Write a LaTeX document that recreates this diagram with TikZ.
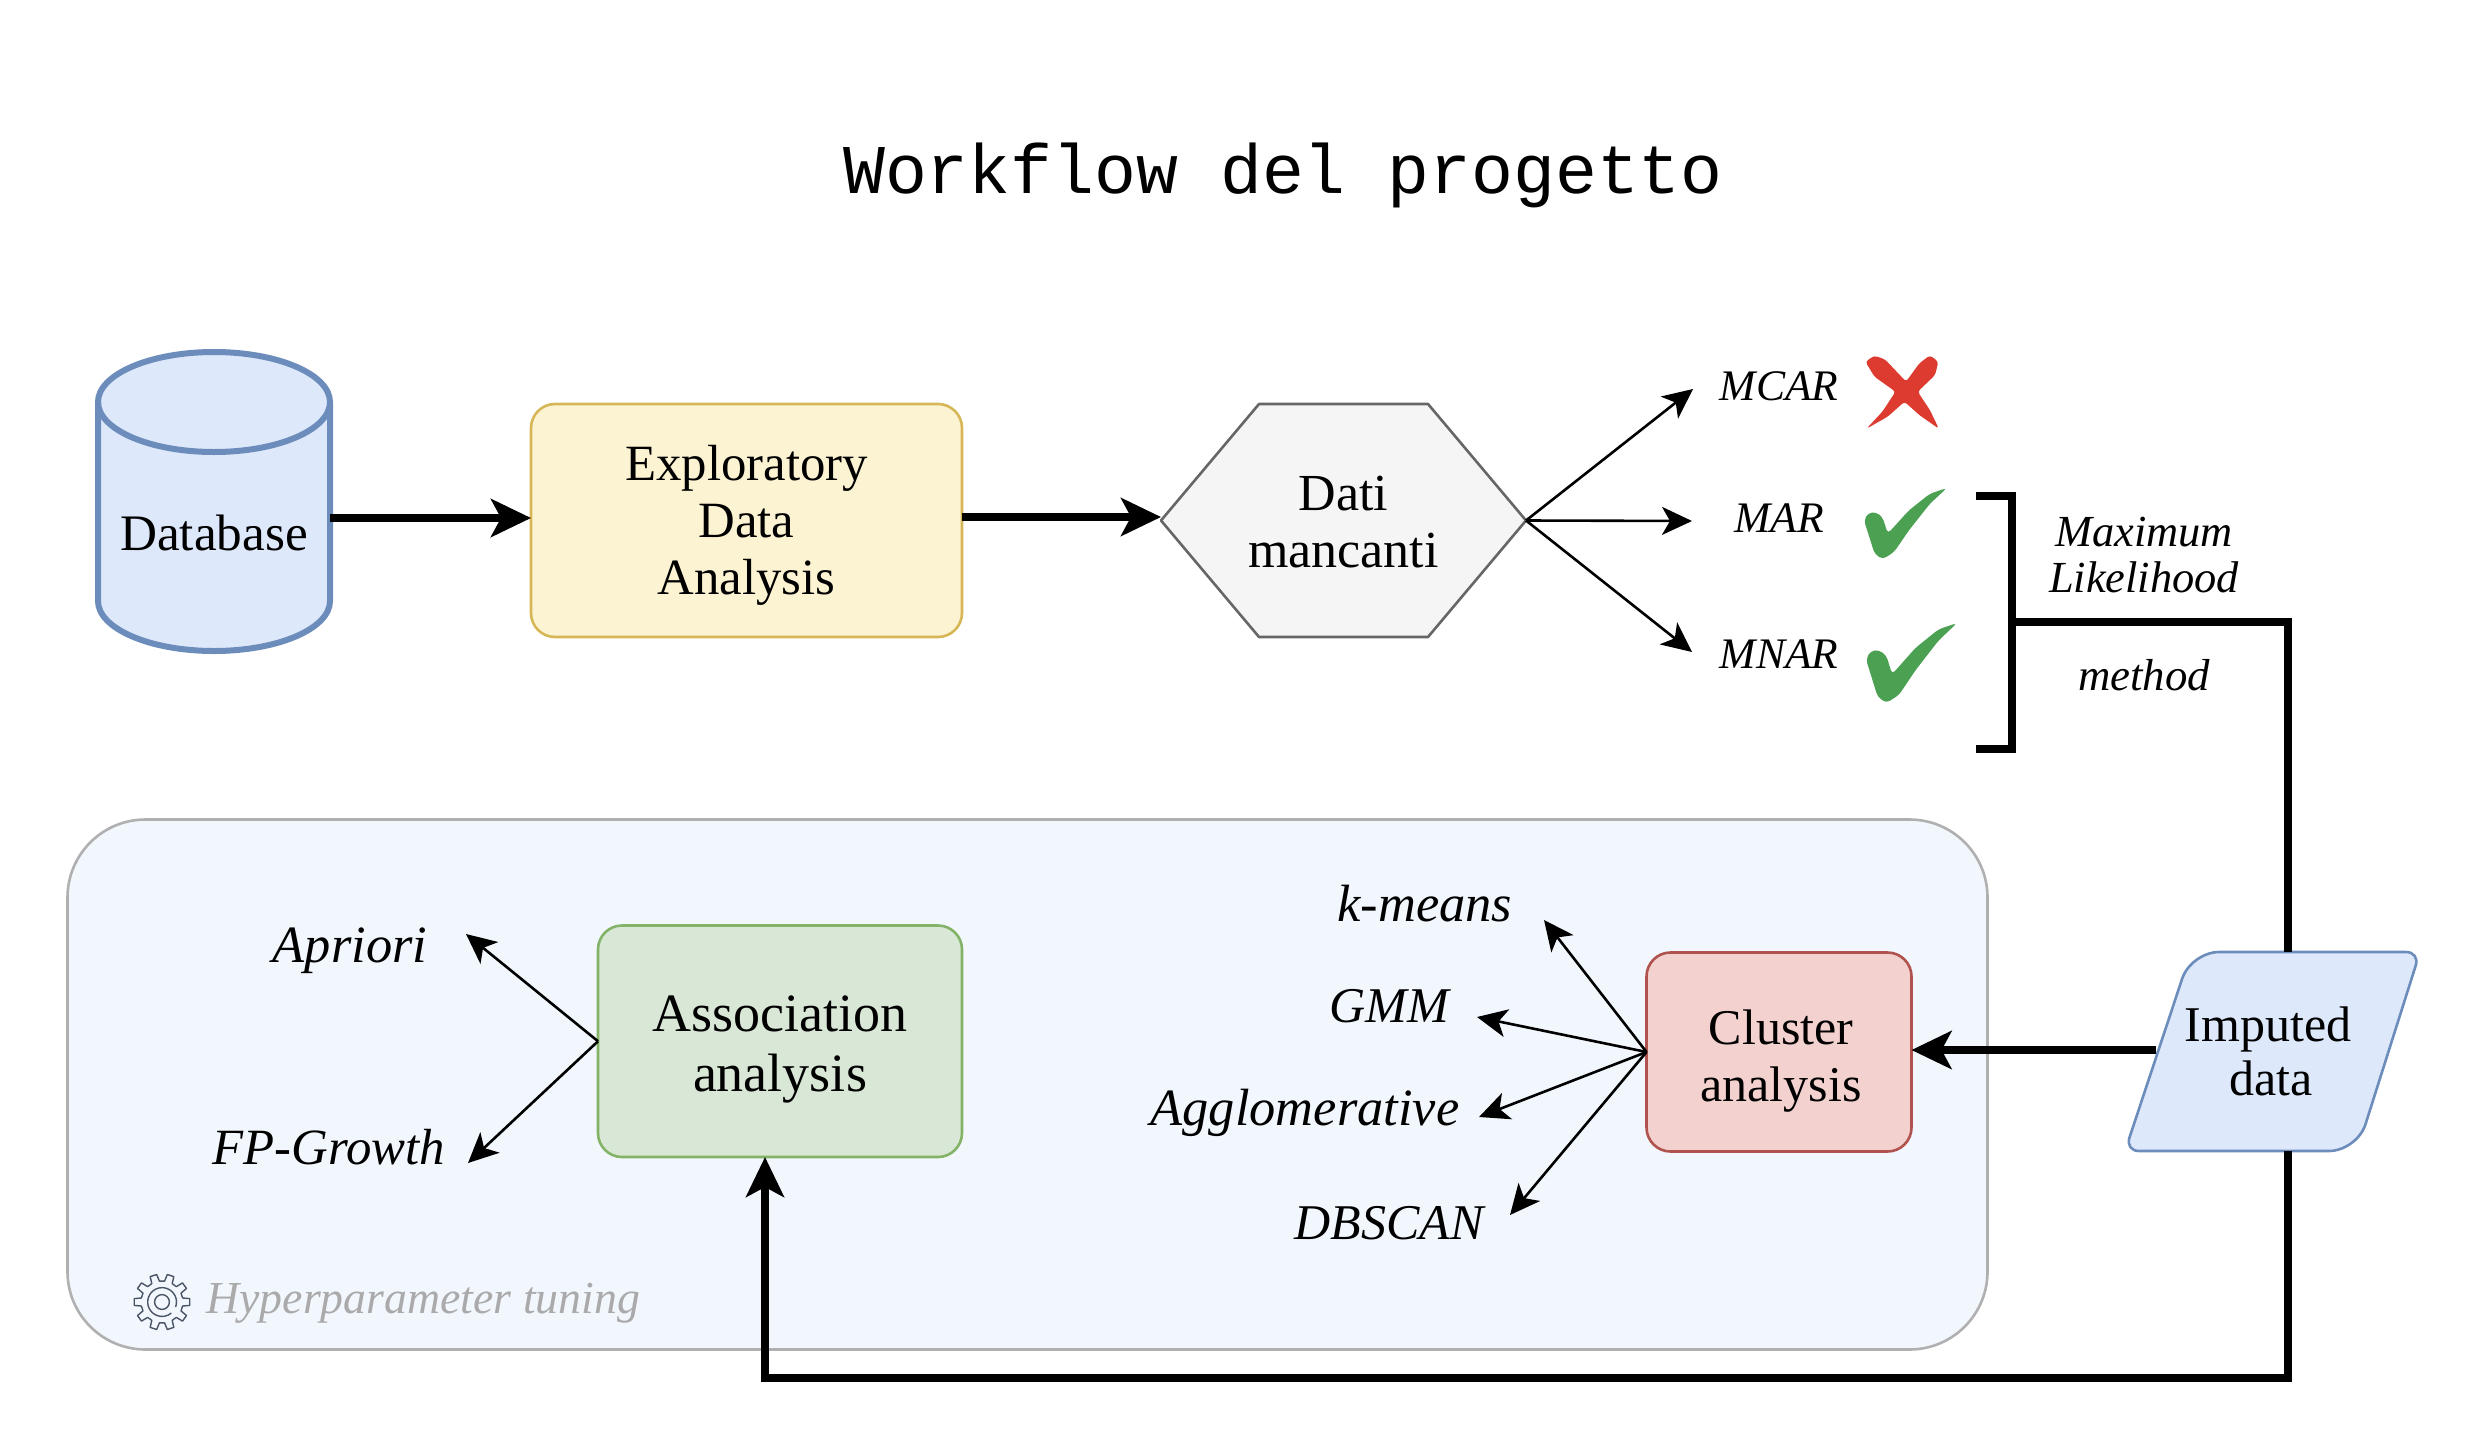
\documentclass[tikz,border=0pt]{standalone}
\usepackage{fontspec}
\setmainfont{Liberation Serif}
\newfontfamily\titlefont{Liberation Mono}
\usetikzlibrary{arrows.meta,calc}
\pgfdeclarelayer{bg}
\pgfsetlayers{bg,main}
\definecolor{dbfill}{HTML}{DDE8FA}
\definecolor{dbline}{HTML}{6C8CBC}
\definecolor{edafill}{HTML}{FCF3D2}
\definecolor{edaline}{HTML}{D6B656}
\definecolor{hexfill}{HTML}{F5F5F5}
\definecolor{hexline}{HTML}{666666}
\definecolor{assfill}{HTML}{D9E7D6}
\definecolor{assline}{HTML}{82B366}
\definecolor{clufill}{HTML}{F3D1CE}
\definecolor{cluline}{HTML}{B0524E}
\definecolor{tunefill}{HTML}{F2F7FE}
\definecolor{tuneline}{HTML}{B0B0B0}
\definecolor{tunetext}{HTML}{AAAAAA}
\definecolor{crossred}{HTML}{DD3A30}
\definecolor{checkgreen}{HTML}{4CA052}
\definecolor{gearline}{HTML}{4A5565}
\tikzset{
  stepnode/.style={inner sep=0pt,outer sep=0pt,align=center,font=\fontsize{25.6}{28.5}\selectfont},
  boxnode/.style={stepnode,draw,line width=1.3pt,rounded corners=12pt},
  shapeline/.style={line width=1.3pt,line join=round},
  lab/.style={inner sep=0pt,outer sep=0pt,align=center,font=\fontsize{21.8}{23}\selectfont\itshape},
  algo/.style={inner sep=0pt,outer sep=0pt,align=center,font=\fontsize{26.2}{28}\selectfont\itshape},
  algosmall/.style={algo,font=\fontsize{25}{28}\selectfont\itshape},
  bigarrow/.style={line width=3.6pt,-{Stealth[length=20pt,width=19pt,inset=5pt]}},
  thinarrow/.style={line width=1.3pt,-{Stealth[length=15pt,width=14pt,inset=4pt]}},
  bigline/.style={line width=3.6pt},
}
\newcommand{\dn}[1]{\rule{0pt}{#1}}
\newcommand{\checkpath}{(0,97) -- (8,75) -- (22,72) -- (35,87) -- (45,137) -- (85,67) -- (125,17) -- (157,0) -- (125,47) -- (85,127) -- (57,192) -- (35,214) -- (20,197) -- (10,147) -- cycle}
\begin{document}
\begin{tikzpicture}[x=0.5pt,y=-0.5pt]
\useasboundingbox (0,0) rectangle (2478,1434);

% title
\node[inner sep=0pt,font=\fontsize{34.9}{36}\selectfont\titlefont] (title) at (1283,175) {Workflow del progetto};

% container
\begin{pgfonlayer}{bg}
\node[draw=tuneline,fill=tunefill,line width=1.3pt,rounded corners=39pt,minimum width=960pt,minimum height=265pt,inner sep=0pt,outer sep=0pt] (tune) at (1027.5,1084.5) {};
\end{pgfonlayer}

% database
\node[stepnode,minimum width=116pt,minimum height=149.5pt] (db) at (214,501.5) {\dn{49pt}Database};
\begin{pgfonlayer}{bg}
\draw[fill=dbfill,draw=dbline,line width=3pt] (98,402) -- (98,601) arc[start angle=180,end angle=360,x radius=58pt,y radius=25pt] -- (330,402) arc[start angle=0,end angle=180,x radius=58pt,y radius=25pt] -- cycle;
\draw[draw=dbline,line width=3pt] (98,402) arc[start angle=180,end angle=360,x radius=58pt,y radius=25pt];
\end{pgfonlayer}

% exploratory
\node[boxnode,draw=edaline,fill=edafill,minimum width=215.5pt,minimum height=116.5pt,font=\fontsize{25.4}{28.5}\selectfont] (eda) at (746.5,520.5) {\dn{22pt}Exploratory\\Data\\Analysis};

% hexagon
\node[stepnode,font=\fontsize{26}{28.5}\selectfont,minimum width=182.5pt,minimum height=116.5pt] (hex) at (1343.5,520.5) {\dn{19pt}Dati\\mancanti};
\begin{pgfonlayer}{bg}
\draw[shapeline,fill=hexfill,draw=hexline] (hex.west) -- ([xshift=49pt]hex.north west) -- ([xshift=-49pt]hex.north east) -- (hex.east) -- ([xshift=-49pt]hex.south east) -- ([xshift=49pt]hex.south west) -- cycle;
\end{pgfonlayer}

% missingness labels
\node[lab] (mcar) at (1779,386) {MCAR};
\node[lab] (mar) at (1779,518) {MAR};
\node[lab] (mnar) at (1779,654) {MNAR};
\coordinate (tipmcar) at (1693,389);
\coordinate (tipmar) at (1692,521);
\coordinate (tipmnar) at (1692,652);
\draw[thinarrow] (hex.east) -- (tipmcar);
\draw[thinarrow] (hex.east) -- (tipmar);
\draw[thinarrow] (hex.east) -- (tipmnar);

% marks
\begin{scope}[shift={(1650,320)},x=0.264pt,y=-0.1667pt]
\fill[crossred,rounded corners=1.5pt] (408,125) -- (425,107) -- (445,118) -- (485,185) -- (510,130) -- (530,106) -- (546,125) -- (540,165) -- (507,215) -- (530,270) -- (547,326) -- (510,285) -- (482,245) -- (450,290) -- (410,326) -- (440,275) -- (465,215) -- (425,170) -- cycle;
\end{scope}
\begin{scope}[shift={(1864,488)},x=0.264pt,y=-0.1667pt]
\fill[checkgreen,rounded corners=2pt] \checkpath;
\end{scope}
\begin{scope}[shift={(1866,623)},x=0.29pt,y=-0.187pt]
\fill[checkgreen,rounded corners=2pt] \checkpath;
\end{scope}

% bracket
\coordinate (brtop) at (1976,496);
\coordinate (brbot) at (1976,749);
\coordinate (brj) at (2012,622);
\draw[bigline,line join=miter] (brtop) -- (2012,496) -- (2012,749) -- (brbot);
\node[lab,font=\fontsize{22.2}{23}\selectfont\itshape] (ml) at (2144,555) {Maximum\\Likelihood};
\node[lab,font=\fontsize{22.4}{23}\selectfont\itshape] (method) at (2144,675) {method};

% imputed data
\node[stepnode,font=\fontsize{25}{27}\selectfont,minimum width=112pt,minimum height=99.5pt] (imp) at (2268,1051.5) {Imputed\\\hspace*{3pt}data};
\begin{pgfonlayer}{bg}
\draw[shapeline,fill=dbfill,draw=dbline] (2300,952) [rounded corners=7pt] -- (2420,952) [rounded corners=14pt] -- (2357,1151) [rounded corners=7pt] -- (2125,1151) [rounded corners=14pt] -- (2191,952) [sharp corners] -- cycle;
\end{pgfonlayer}

% cluster & association
\node[boxnode,draw=cluline,fill=clufill,font=\fontsize{25}{28.5}\selectfont,minimum width=132.5pt,minimum height=99.5pt] (clu) at (1779,1052) {\dn{26.5pt}\hspace*{2pt}Cluster\\\hspace*{2pt}analysis};
\node[boxnode,draw=assline,fill=assfill,minimum width=182pt,minimum height=115.75pt,font=\fontsize{27}{30}\selectfont] (ass) at (780,1041.25) {\dn{26.5pt}Association\\analysis};

% algorithms
\node[algo] (apriori) at (350,951) {Apriori};
\node[algo,font=\fontsize{25.4}{28}\selectfont\itshape] (fp) at (329,1147) {FP-Growth};
\node[algo] (kmeans) at (1425,904) {k-means};
\node[algosmall] (gmm) at (1389,1006) {GMM};
\node[algo] (agglo) at (1305,1113) {Agglomerative};
\node[algosmall] (dbscan) at (1389,1223) {DBSCAN};
\coordinate (tipapr) at (466,934);
\coordinate (tipfp) at (468,1163);
\coordinate (tipkm) at (1544,920);
\coordinate (tipgmm) at (1477,1017);
\coordinate (tipagg) at (1479,1117);
\coordinate (tipdb) at (1510,1215);
\draw[thinarrow] (ass.west) -- (tipapr);
\draw[thinarrow] (ass.west) -- (tipfp);
\draw[thinarrow] (clu.west) -- (tipkm);
\draw[thinarrow] (clu.west) -- (tipgmm);
\draw[thinarrow] (clu.west) -- (tipagg);
\draw[thinarrow] (clu.west) -- (tipdb);

% thick connectors
\draw[bigarrow] (db.east |- 0,518) -- (eda.west |- 0,518);
\draw[bigarrow] (eda.east |- 0,517) -- (hex.west |- 0,517);
\draw[bigline] (brj) -| ([xshift=10pt]imp.north);
\draw[bigarrow] (imp.west |- 0,1050) -- (clu.east |- 0,1050);
\coordinate (botcorner) at (2288,1378);
\draw[bigarrow] ([xshift=10pt]imp.south) -- (botcorner) -| ([xshift=-7.5pt]ass.south);

% tuning label and gear
\node[inner sep=0pt,anchor=base west,text=tunetext,font=\fontsize{22.9}{24}\selectfont\itshape] (tunelabel) at (206,1313) {Hyperparameter tuning};
\begin{scope}[shift={(162,1302)}]
\draw[gearline,line width=0.7pt,line join=round]
  (-11:21) \foreach \a in {0,36,...,324} { -- ({\a-11}:21) -- ({\a-7}:28) -- ({\a+7}:28) -- ({\a+11}:21) } -- cycle;
\draw[gearline,line width=0.7pt] (0,0) circle[radius=3.7pt];
\draw[gearline,line width=0.7pt] (20:14.5) arc[start angle=-20,end angle=310,radius=7.2pt];
\end{scope}
\end{tikzpicture}
\end{document}
